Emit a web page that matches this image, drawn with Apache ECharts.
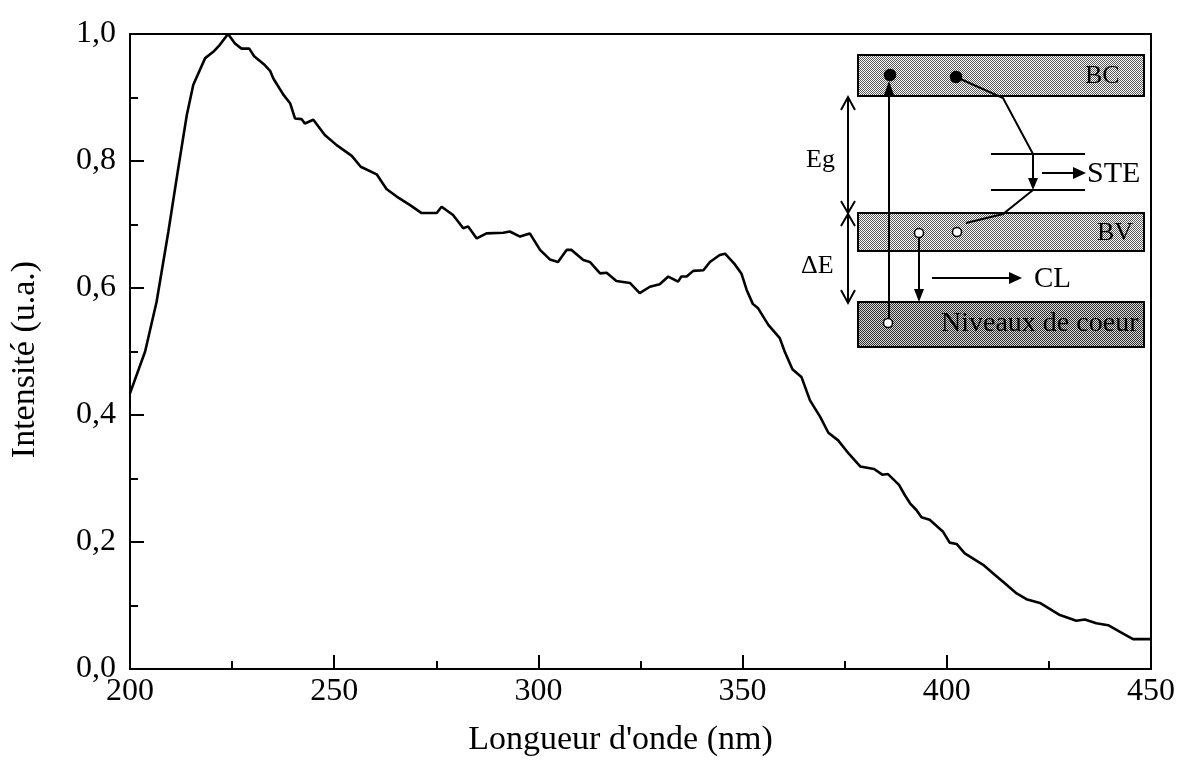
<!DOCTYPE html>
<html>
<head>
<meta charset="utf-8">
<script src="https://cdn.jsdelivr.net/npm/echarts@6/dist/echarts.min.js"></script>
<style>
  html, body { margin: 0; padding: 0; background: #fff; }
  #chart { width: 1178px; height: 762px; }
</style>
</head>
<body>
<div id="chart"></div>
<script>
// Emission spectrum: wavelength (nm) and normalised intensity
const wavelengths = [
  200, 203.7, 206.5, 209.4, 211.8, 213.9, 215.5, 218.4, 220.4, 222.0,
  224.0, 225.7, 227.3, 229.2, 230.4, 233.0, 234.3, 235.1, 237.5, 239.2,
  240.4, 242.0, 242.8, 244.9, 247.7, 250.6, 254.3, 256.5, 260.4, 262.8,
  265.3, 268.5, 271.4, 275.1, 276.3, 279.1, 281.6, 282.8, 284.9, 287.3,
  291.4, 293.0, 295.5, 297.9, 300.4, 302.8, 304.8, 306.9, 308.1, 311.0,
  312.6, 315.1, 316.7, 319.1, 322.4, 324.8, 327.3, 329.7, 331.8, 334.2,
  335.0, 336.3, 337.9, 340.4, 342.0, 344.4, 345.7, 348.0, 349.7, 351.0,
  352.5, 353.8, 356.3, 359.1, 360.3, 362.2, 364.4, 366.5, 369.0, 371.0,
  373.4, 376.0, 378.8, 382.2, 384.2, 385.6, 388.3, 389.7, 391.0, 392.6,
  393.8, 395.8, 399.1, 400.7, 402.4, 404.4, 408.9, 411.8, 414.2, 417.1,
  419.5, 422.8, 427.7, 431.7, 433.8, 436.6, 439.5, 442.3, 445.6, 450.0
];
const intensities = [
  0.434, 0.500, 0.578, 0.689, 0.788, 0.872, 0.920, 0.962, 0.972, 0.983,
  1.000, 0.985, 0.977, 0.977, 0.965, 0.951, 0.942, 0.930, 0.905, 0.891,
  0.867, 0.866, 0.859, 0.865, 0.841, 0.825, 0.808, 0.791, 0.779, 0.756,
  0.744, 0.731, 0.718, 0.718, 0.728, 0.715, 0.694, 0.697, 0.678, 0.686,
  0.687, 0.689, 0.681, 0.686, 0.660, 0.645, 0.641, 0.660, 0.660, 0.644,
  0.641, 0.623, 0.624, 0.611, 0.608, 0.592, 0.602, 0.606, 0.618, 0.610,
  0.618, 0.618, 0.627, 0.628, 0.641, 0.652, 0.654, 0.638, 0.623, 0.597,
  0.575, 0.568, 0.542, 0.521, 0.500, 0.472, 0.460, 0.423, 0.397, 0.372,
  0.360, 0.339, 0.319, 0.315, 0.306, 0.307, 0.290, 0.274, 0.261, 0.250,
  0.239, 0.235, 0.216, 0.199, 0.197, 0.182, 0.164, 0.148, 0.135, 0.119,
  0.110, 0.104, 0.085, 0.076, 0.078, 0.072, 0.069, 0.059, 0.047, 0.047
];

const xTitle = "Longueur d'onde (nm)";
const yTitle = 'Intensité (u.a.)';
const SERIF = '"Liberation Serif", "Times New Roman", serif';

// stippled fill used for the energy-band boxes
function stipple(dark, light) {
  const c = document.createElement('canvas');
  c.width = 2; c.height = 2;
  const g = c.getContext('2d');
  g.fillStyle = light; g.fillRect(0, 0, 2, 2);
  g.fillStyle = dark; g.fillRect(0, 0, 1, 1); g.fillRect(1, 1, 1, 1);
  return { image: c, repeat: 'repeat' };
}
const bandFill = stipple('#5a5a5a', '#ffffff');
const coreFill = stipple('#2e2e2e', '#d8d8d8');

const ink = '#000';
function line(x1, y1, x2, y2, w) {
  return { type: 'line', shape: { x1, y1, x2, y2 }, style: { stroke: ink, lineWidth: w || 2 }, z: 10 };
}
function poly(points, w) {
  return { type: 'polyline', shape: { points }, style: { stroke: ink, lineWidth: w || 2, fill: null }, z: 10 };
}
function head(points) {
  return { type: 'polygon', shape: { points }, style: { fill: ink }, z: 11 };
}
function label(text, x, y, size, align) {
  return {
    type: 'text', z: 12,
    style: { text, x, y, fill: ink, font: size + 'px ' + SERIF, textAlign: align || 'left', textVerticalAlign: 'middle' }
  };
}
function box(x, y, w, h, fill) {
  return { type: 'rect', shape: { x, y, width: w, height: h }, style: { fill, stroke: ink, lineWidth: 2 }, z: 5 };
}
function dot(cx, cy, r, filled) {
  return { type: 'circle', shape: { cx, cy, r }, style: { fill: filled ? ink : '#fff', stroke: ink, lineWidth: 1.5 }, z: 12 };
}

// band diagram (BC / BV / core levels)
const diagram = [
  box(858, 55, 286, 41, bandFill),
  box(858, 213, 286, 38, bandFill),
  box(858, 302, 286, 45, coreFill),
  label('BC', 1085, 76, 26),
  label('BV', 1097, 233, 26),
  label('Niveaux de coeur', 941, 324, 28),
  dot(890, 75, 5.5, true),
  dot(956, 77, 5.5, true),
  dot(919, 233, 4.5, false),
  dot(957, 232, 4.5, false),
  dot(888, 323, 4.5, false),
  // excitation core -> BC
  line(889, 318, 889, 92),
  head([[889, 81], [884, 95], [894, 95]]),
  // relaxation BC -> STE
  poly([[956, 77], [1003, 98], [1033, 154]]),
  line(991, 154, 1085, 154),
  line(991, 190, 1085, 190),
  line(1033, 154, 1033, 180),
  head([[1033, 190], [1028, 178], [1038, 178]]),
  poly([[966, 223], [1003, 214], [1033, 190]]),
  line(1042, 173, 1076, 173),
  head([[1086, 173], [1073, 167], [1073, 179]]),
  label('STE', 1087, 174, 30),
  // cross-luminescence BV -> core
  line(919, 237, 919, 292),
  head([[919, 302], [914, 289], [924, 289]]),
  line(932, 278, 1012, 278),
  head([[1022, 278], [1009, 272], [1009, 284]]),
  label('CL', 1034, 279, 29),
  // Eg and ΔE span arrows
  line(848, 97, 848, 303),
  poly([[841, 110], [848, 97], [855, 110]]),
  poly([[841, 201], [848, 213], [855, 201]]),
  poly([[841, 226], [848, 214], [855, 226]]),
  poly([[841, 290], [848, 303], [855, 290]]),
  label('Eg', 806, 160, 26),
  label('\u0394E', 801, 266, 26)
];

const chart = echarts.init(document.getElementById('chart'), null, { renderer: 'canvas' });
const axisText = { color: ink, fontFamily: SERIF, fontSize: 32 };

chart.setOption({
  backgroundColor: '#fff',
  animation: false,
  grid: {
    left: 130, right: 27, top: 34, bottom: 93,
    show: true, borderColor: ink, borderWidth: 2, backgroundColor: 'transparent'
  },
  xAxis: {
    type: 'value', min: 200, max: 450, interval: 50,
    name: xTitle, nameLocation: 'middle', nameGap: 54,
    nameTextStyle: { color: ink, fontFamily: SERIF, fontSize: 34, padding: [0, 40, 0, 0] },
    axisLine: { show: true, lineStyle: { color: ink, width: 2 } },
    axisTick: { show: true, inside: true, length: 14, lineStyle: { color: ink, width: 2 } },
    minorTick: { show: true, splitNumber: 2, length: 8, lineStyle: { color: ink, width: 2 } },
    axisLabel: Object.assign({ margin: 7 }, axisText),
    splitLine: { show: false }
  },
  yAxis: {
    type: 'value', min: 0, max: 1, interval: 0.2,
    name: yTitle, nameLocation: 'middle', nameGap: 88, nameRotate: 90,
    nameTextStyle: { color: ink, fontFamily: SERIF, fontSize: 34, padding: [0, 16, 0, 0] },
    axisLine: { show: true, lineStyle: { color: ink, width: 2 } },
    axisTick: { show: true, inside: true, length: 14, lineStyle: { color: ink, width: 2 } },
    minorTick: { show: true, splitNumber: 2, length: 8, lineStyle: { color: ink, width: 2 } },
    axisLabel: Object.assign({ margin: 14, formatter: v => v.toFixed(1).replace('.', ',') }, axisText),
    splitLine: { show: false }
  },
  series: [{
    type: 'line',
    data: wavelengths.map((w, i) => [w, intensities[i]]),
    showSymbol: false,
    clip: false,
    lineStyle: { color: ink, width: 2.6 },
    z: 3
  }],
  graphic: { elements: diagram }
});
</script>
</body>
</html>
